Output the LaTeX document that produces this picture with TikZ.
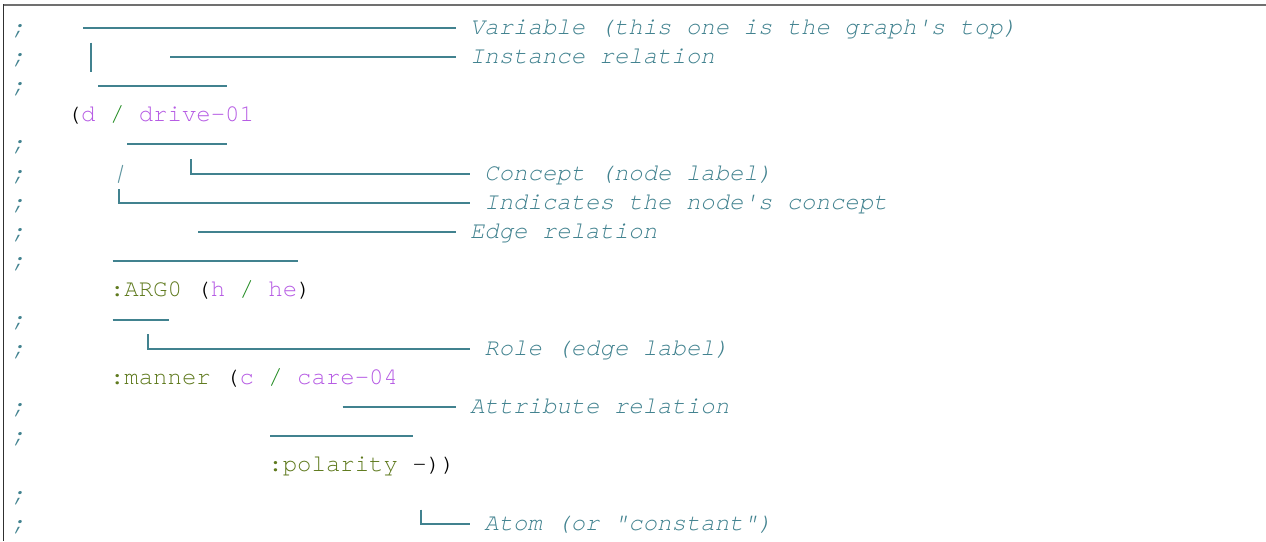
\documentclass[tikz,border=0pt]{standalone}
\usepackage{fontspec}
\newfontfamily\codefont{texgyrecursor}[Extension=.otf,
  UprightFont=*-regular, ItalicFont=*-italic, BoldFont=*-bold,
  Ligatures=TeXOff]
\definecolor{cmt}{HTML}{41828F}
\definecolor{var}{HTML}{B65BE4}
\definecolor{role}{HTML}{5F7A1E}
\definecolor{op}{HTML}{1E8A1E}
\definecolor{frametop}{HTML}{707070}
\definecolor{frameleft}{HTML}{303030}

\begin{document}
\begin{tikzpicture}[x=1pt,y=-1pt,
  code/.style={anchor=base west, inner sep=0pt, text=black,
    font=\fontsize{24}{29}\selectfont\codefont},
  note/.style={code, text=cmt,
    font=\fontsize{24}{29}\selectfont\codefont\itshape},
  rule/.style={draw=cmt, line width=1.9pt},
  thinrule/.style={draw=cmt!80, line width=1.1pt}]

% page and frame
\fill[white] (0,0) rectangle (1266,541);
\useasboundingbox (0,0) rectangle (1266,541);
\draw[frametop, line width=2pt] (3,4.8) -- (1266,4.8);
\draw[frameleft, line width=1.3pt] (3.3,4) -- (3.3,541);

% comment markers in the first column
\foreach \i in {1,2,3,5,6,7,8,9,11,12,14,15,17,18}
  \node[note] (sc\i) at (11,{34.2+29.18*(\i-1)}) {;};

% the graph itself
\node[code] (top) at (66.6,121.7)
  {(\textcolor{var}{d} \textcolor{op}{/} \textcolor{var}{drive-01}};
\node[code] (arg0) at (109.8,296.8)
  {\textcolor{role}{:ARG0} (\textcolor{var}{h} \textcolor{op}{/} \textcolor{var}{he})};
\node[code] (manner) at (109.8,384.4)
  {\textcolor{role}{:manner} (\textcolor{var}{c} \textcolor{op}{/} \textcolor{var}{care-04}};
\node[code] (polarity) at (268.2,471.9)
  {\textcolor{role}{:polarity} -))};

% annotations
\node[note] (lvar)  at (469.8,34.2)  {Variable (this one is the graph's top)};
\node[note] (linst) at (469.8,63.4)  {Instance relation};
\node[note] (lconc) at (484.2,180.1) {Concept (node label)};
\node[note] (lind)  at (484.2,209.3) {Indicates the node's concept};
\node[note] (ledge) at (469.8,238.5) {Edge relation};
\node[note] (lrole) at (484.2,355.2) {Role (edge label)};
\node[note] (lattr) at (469.8,413.5) {Attribute relation};
\node[note] (latom) at (484.2,530.3) {Atom (or "constant")};

% leader lines to the annotations
\draw[rule] (83,27.7)   -- ([xshift=-14pt,yshift=6.5pt]lvar.base west);
\draw[rule] (90.7,42.7) -- (90.7,71.7);
\draw[rule] (170,56.9)  -- ([xshift=-14pt,yshift=6.5pt]linst.base west);
\draw[rule] (190.7,159) |- ([xshift=-14pt,yshift=6.5pt]lconc.base west);
\draw[thinrule] (122.7,165) -- (118.3,182.7);
\draw[rule] (119.3,189) |- ([xshift=-14pt,yshift=6.5pt]lind.base west);
\draw[rule] (198,232)   -- ([xshift=-14pt,yshift=6.5pt]ledge.base west);
\draw[rule] (147.7,334) |- ([xshift=-14pt,yshift=6.5pt]lrole.base west);
\draw[rule] (342.7,407) -- ([xshift=-14pt,yshift=6.5pt]lattr.base west);
\draw[rule] (420.7,509.5) |- ([xshift=-14pt,yshift=6.5pt]latom.base west);

% underlines marking spans of the code
\draw[rule] (98,86.1)    -- (227,86.1);
\draw[rule] (127,144.4)  -- (227,144.4);
\draw[rule] (112.7,261.3) -- (298.3,261.3);
\draw[rule] (112.7,319.7) -- (169.3,319.7);
\draw[rule] (270,436)    -- (413.3,436);
\end{tikzpicture}
\end{document}
